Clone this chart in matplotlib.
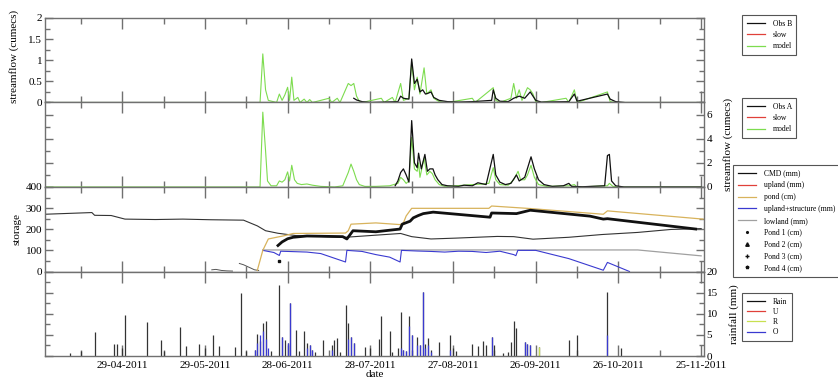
"""Hydrograph panels for the 2011 season: streamflow at B and A, storages and rainfall."""
import matplotlib

matplotlib.use("Agg")

import matplotlib.dates as mdates
import matplotlib.pyplot as plt
import numpy as np
from matplotlib.lines import Line2D
from matplotlib.ticker import FixedLocator, MultipleLocator

START = np.datetime64("2011-04-01")
END = np.datetime64("2011-11-26")

# all series: (days since 1 April 2011, value)
OBS_B = [(112, 0.1), (113, 0.06), (115, 0.02), (118, 0), (128, 0.02), (129, 0.15), (130, 0.1),
         (132, 0.08), (133, 1.03), (134, 0.45), (135, 0.55), (136, 0.25), (137, 0.3), (138, 0.2),
         (139, 0.22), (140, 0.25), (141, 0.12), (143, 0.05), (146, 0.02), (150, 0.01), (155, 0.02),
         (162, 0.05), (162.6, 0.3), (163.5, 0.1), (165, 0.03), (168, 0.02), (170, 0.1), (172, 0.15),
         (174, 0.1), (176, 0.25), (177, 0.15), (178, 0.05), (180, 0.01), (190, 0.02), (192, 0.2),
         (193, 0.03), (204, 0.2), (205, 0.08), (207, 0.02), (210, 0)]
MODEL_B = [(0, 0), (78, 0), (79, 1.15), (80, 0.3), (81, 0.05), (84, 0), (85, 0.2), (86, 0.05),
           (87, 0.18), (88, 0.36), (88.7, 0.05), (89.5, 0.6), (90.3, 0.05), (91.7, 0.12), (92.5, 0),
           (94, 0.08), (95, 0), (96, 0.07), (97, 0), (103, 0.1), (104, 0), (106, 0.1), (107, 0),
           (110, 0.45), (111, 0.4), (112, 0.45), (113, 0.15), (114, 0.03), (115, 0), (122, 0.1),
           (123, 0), (126, 0.12), (127, 0), (129, 0.45), (130, 0.05), (132, 0.1), (133, 0.95),
           (134, 0.3), (135, 0.6), (136, 0.2), (137.5, 0.82), (138.5, 0.2), (140, 0.3), (141, 0.1),
           (143, 0.02), (146, 0), (155, 0.1), (156, 0), (162.6, 0.35), (163.5, 0.05), (165, 0),
           (169, 0.1), (170, 0.45), (171, 0.1), (172, 0.3), (173, 0.05), (175, 0.35), (176, 0.3),
           (177, 0.2), (178, 0.02), (180, 0), (189, 0.1), (190, 0), (192, 0.3), (193, 0),
           (204, 0.25), (205, 0.02), (207, 0), (238, 0)]

OBS_A = [(127, 0.1), (128, 0.5), (129, 1.2), (130, 1.5), (131, 1.0), (132, 0.4), (133, 5.5),
         (134, 2.0), (135, 1.6), (135.5, 2.8), (136.5, 1.5), (137.8, 2.7), (138.7, 1.3),
         (139.6, 1.5), (140.7, 1.5), (141.5, 1.0), (142.5, 0.6), (144, 0.2), (146, 0.1),
         (150, 0.05), (152, 0.15), (155, 0.1), (157, 0.35), (159, 0.25), (160, 0.2), (162.6, 2.7),
         (163.5, 1.0), (165, 0.4), (167, 0.2), (169, 0.3), (171, 1.0), (172, 0.5), (174, 0.8),
         (176.3, 2.5), (177.5, 1.5), (179, 0.6), (181, 0.2), (184, 0.05), (188, 0.1), (190, 0.3),
         (191, 0.05), (195, 0.02), (203, 0.1), (204, 2.6), (204.7, 2.7), (205.5, 0.5), (207, 0.1),
         (210, 0), (238, 0)]
MODEL_A = [(0, 0), (78, 0), (79, 6.2), (80, 3.0), (80.7, 0.5), (82, 0.1), (84, 0.1), (85, 0.5),
           (86, 0.4), (87, 0.6), (88, 1.25), (88.7, 0.5), (89.5, 1.8), (90.5, 0.6), (91.5, 0.3),
           (93, 0.2), (95, 0.25), (97, 0.15), (100, 0.05), (105, 0), (108, 0.1), (110, 1.2),
           (111, 1.9), (112, 1.3), (113, 0.6), (114, 0.2), (116, 0.05), (120, 0.05), (125, 0.1),
           (128, 0.3), (129, 0.8), (130, 0.6), (131, 0.3), (132, 0.5), (133, 4.1), (134, 1.5),
           (135, 1.3), (135.5, 2.0), (136, 0.8), (137.5, 2.4), (138.5, 1.0), (139.6, 1.3),
           (140.5, 1.1), (141.5, 0.6), (143, 0.2), (145, 0.05), (149, 0.1), (155, 0.2),
           (159, 0.25), (161, 0.3), (162.6, 1.6), (163.5, 0.6), (165, 0.2), (168, 0.15), (170, 0.6),
           (171.6, 1.3), (172.5, 0.6), (174, 0.6), (175, 1.0), (176.3, 1.8), (177.5, 0.8),
           (179, 0.2), (182, 0.05), (190, 0.1), (192, 0.2), (193, 0), (204, 0.1), (204.7, 0.3),
           (206, 0.05), (208, 0), (238, 0)]

CMD = [(0, 271), (17, 279), (18, 266), (24, 265), (29, 248), (40, 246), (50, 248), (60, 245),
       (72, 243), (77, 216), (80, 193), (84.5, 181), (91, 170), (109, 162), (120, 172), (129, 180),
       (133, 165), (140, 154), (149, 158), (164, 166), (170, 165), (177, 153), (190, 162),
       (202, 175), (215, 185), (227, 199), (238, 203)]
UPLAND_EARLY = [(60.5, 8), (62, 10), (64, 5), (66, 3), (68, 2), (69, np.nan), (70.5, 38),
                (72, 32), (74, 20), (76, 8), (77.5, 5)]
POND = [(77, 5), (79, 100), (81, 154), (87, 170), (90, 180), (109, 182), (110, 193), (111, 224),
        (120, 230), (128.8, 222), (130, 230), (131, 263), (133, 299), (161, 299), (162, 310),
        (176, 298), (202.5, 271), (204, 287), (238.7, 248)]
UPLAND_STRUCT = [(79, 100), (83, 90), (85, 76), (85.5, 96), (95, 92), (100, 85), (109, 45),
                 (109.5, 100), (115, 95), (120, 80), (125, 68), (128.8, 45), (129.3, 100),
                 (135, 97), (140, 95), (145, 92), (150, 96), (155, 95), (160, 90), (165, 96),
                 (170, 80), (170.8, 75), (171.5, 100), (178, 100), (190, 61), (202.5, 6),
                 (204, 43), (212, 0)]
LOWLAND = [(79, 102), (215, 102), (238, 74)]
POND_OBS = [(84.5, 123), (86, 140), (88, 155), (90, 162), (95, 168), (108, 165), (109.5, 154),
            (111.7, 193), (120, 188), (128.8, 201), (129.6, 224), (132.4, 238), (133.6, 254),
            (135.4, 265), (137.2, 274), (140.8, 281), (161.4, 257), (162, 277), (171, 274),
            (176, 290), (197.7, 262), (202.5, 248), (204, 250), (236, 201)]
POND_OBS_FIRST = [(85, 50)]

RAIN = [(9, 0.7), (13, 1.2), (18, 5.7), (25, 2.8), (26, 2.8), (28, 2.0), (29, 9.6), (37, 8.0),
        (42, 3.7), (43, 1.2), (49, 6.8), (51, 2.4), (56, 2.8), (58, 2.0), (61, 5.0), (63, 2.4),
        (69, 2.2), (71, 14.8), (73, 1.2), (76, 1.5), (77, 5.2), (78, 3.5), (79, 7.8), (80, 8.3),
        (82, 1.2), (85, 16.7), (86, 4.6), (87, 3.9), (88, 3.0), (89, 12.5), (91, 6.2), (92, 1.2),
        (94, 6.0), (95, 3.1), (96, 2.6), (97, 1.5), (98, 1.0), (101, 3.9), (104, 2.6), (105, 3.9),
        (106, 4.2), (107, 1.0), (109, 12.1), (110, 7.8), (111, 4.6), (112, 3.1), (116, 2.2),
        (118, 2.0), (121, 4.0), (122, 9.4), (125, 5.8), (126, 1.0), (128, 2.0), (129, 10.3),
        (130, 1.5), (131, 1.2), (132, 9.4), (133, 5.0), (135, 4.4), (136, 2.6), (137, 15.1),
        (138, 2.8), (139, 4.2), (140, 1.5), (143, 3.3), (147, 5.0), (148, 2.0), (149, 1.2),
        (155, 2.8), (157, 2.4), (159, 3.6), (160, 2.6), (162, 4.6), (163, 2.6), (166, 0.6),
        (168, 1.0), (169, 3.3), (170, 8.4), (171, 6.6), (174, 3.3), (175, 2.8), (176, 2.6),
        (179, 2.2), (190, 3.9), (193, 4.9), (204, 15.1), (209, 2.0)]
RAIN_O = [(76, 1.5), (77, 3.0), (78, 5.0), (79, 6.0), (80, 4.0), (81, 2.0), (86, 4.6), (88, 3.0),
          (89, 12.5), (95, 2.0), (96, 2.6), (97, 1.5), (104, 1.5), (110, 4.0), (111, 4.6),
          (112, 3.1), (129, 2.0), (130, 1.5), (131, 1.2), (132, 7.0), (133, 5.0), (135, 2.5),
          (136, 2.6), (137, 15.1), (138, 2.0), (139, 2.5), (140, 1.0), (147, 1.5), (162, 4.6),
          (174, 3.3), (175, 2.8), (176, 2.6), (204, 4.9)]
RAIN_R = [(179, 2.2)]

MAJOR_DATES = np.arange(np.datetime64("2011-04-29"), END, 30)
MINOR_DATES = np.arange(np.datetime64("2011-04-14"), END, 30)

BLACK = "#111111"
RED = "#e0403a"
GREEN = "#7ddc4f"
ORANGE = "#d8b35c"
BLUE = "#3a3ad0"
GREY = "#a0a0a0"
FRAME = "#707070"


def _series(pairs):
    days = np.array([p[0] for p in pairs], dtype=float)
    vals = np.array([p[1] for p in pairs], dtype=float)
    dates = START + np.round(days * 24).astype(int).astype("timedelta64[h]")
    return dates, vals


def _style(ax):
    ax.set_xlim(START, END)
    ax.xaxis.set_major_locator(FixedLocator(mdates.date2num(MAJOR_DATES)))
    ax.xaxis.set_minor_locator(FixedLocator(mdates.date2num(MINOR_DATES)))
    ax.xaxis.set_major_formatter(mdates.DateFormatter("%d-%m-%Y"))
    ax.tick_params(which="both", direction="in", top=True, bottom=True, left=True, right=True,
                   color=FRAME, width=1.0, labelsize=8, pad=2)
    ax.tick_params(axis="x", which="major", length=8, pad=3.5)
    ax.tick_params(axis="x", which="minor", length=4)
    ax.tick_params(axis="y", which="major", length=6)
    ax.tick_params(axis="y", which="minor", length=3.5)
    for spine in ax.spines.values():
        spine.set_color(FRAME)
        spine.set_linewidth(1.0)


def _legend(ax, handles, labels, x_px, y_px, spacing=0.45):
    leg = ax.legend(handles, labels, loc="upper left",
                    bbox_to_anchor=(x_px / 838, 1 - y_px / 381), bbox_transform=ax.figure.transFigure,
                    fontsize=5.5, frameon=True, fancybox=False, framealpha=1, edgecolor="#555555",
                    handlelength=2.4, handletextpad=1.0, labelspacing=spacing, borderpad=0.6,
                    borderaxespad=0)
    leg.get_frame().set_linewidth(0.8)
    return leg


def main():
    plt.rcParams["font.family"] = ["Liberation Serif", "DejaVu Serif"]
    plt.rcParams["font.size"] = 8

    fig, axes = plt.subplots(4, 1, sharex=True, figsize=(8.38, 3.81), dpi=100)
    fig.subplots_adjust(left=0.0537, right=0.840, top=0.9528, bottom=0.0656, hspace=0)
    ax_b, ax_a, ax_s, ax_r = axes
    for ax in axes:
        _style(ax)

    # streamflow B
    ax_b.plot(*_series(MODEL_B), color=GREEN, lw=0.8)
    ax_b.plot(*_series(OBS_B), color=BLACK, lw=0.9)
    ax_b.set_ylim(0, 2)
    ax_b.yaxis.set_major_locator(MultipleLocator(0.5))
    ax_b.yaxis.set_minor_locator(MultipleLocator(0.25))
    ax_b.yaxis.set_major_formatter(lambda v, _: f"{v:g}")
    ax_b.set_ylabel("streamflow (cumecs)")
    ax_b.yaxis.set_label_coords(-0.04, 0.55)
    flow_handles = [Line2D([], [], color=BLACK, lw=0.9), Line2D([], [], color=RED, lw=0.9),
                    Line2D([], [], color=GREEN, lw=0.9)]
    _legend(ax_b, flow_handles, ["Obs B", "slow", "model"], 742, 15)

    # streamflow A
    ax_a.plot(*_series(MODEL_A), color=GREEN, lw=0.8)
    ax_a.plot(*_series(OBS_A), color=BLACK, lw=0.9)
    ax_a.set_ylim(0, 7)
    ax_a.yaxis.set_major_locator(MultipleLocator(2))
    ax_a.yaxis.set_minor_locator(MultipleLocator(1))
    ax_a.tick_params(axis="y", labelleft=False, labelright=True)
    ax_a.yaxis.set_label_position("right")
    ax_a.set_ylabel("streamflow (cumecs)", labelpad=8)
    _legend(ax_a, flow_handles, ["Obs A", "slow", "model"], 742, 98)

    # storages
    ax_s.plot(*_series(CMD), color="#333333", lw=0.8)
    ax_s.plot(*_series(UPLAND_EARLY), color="#555555", lw=0.7)
    ax_s.plot(*_series(LOWLAND), color=GREY, lw=0.9)
    ax_s.plot(*_series(UPLAND_STRUCT), color=BLUE, lw=0.8)
    ax_s.plot(*_series(POND), color=ORANGE, lw=0.9)
    ax_s.plot(*_series(POND_OBS), color=BLACK, lw=2.0)
    ax_s.plot(*_series(POND_OBS_FIRST), ls="none", marker="s", ms=1.6, color=BLACK)
    ax_s.set_ylim(0, 400)
    ax_s.yaxis.set_major_locator(MultipleLocator(100))
    ax_s.yaxis.set_minor_locator(MultipleLocator(50))
    ax_s.set_ylabel("storage", labelpad=3)
    store_handles = [Line2D([], [], color=BLACK, lw=0.9), Line2D([], [], color=RED, lw=0.9),
                     Line2D([], [], color=ORANGE, lw=0.9), Line2D([], [], color=BLUE, lw=0.9),
                     Line2D([], [], color=GREY, lw=0.9),
                     Line2D([], [], ls="none", marker=".", ms=2.5, color=BLACK),
                     Line2D([], [], ls="none", marker="^", ms=2.5, color=BLACK),
                     Line2D([], [], ls="none", marker="+", ms=2.5, color=BLACK),
                     Line2D([], [], ls="none", marker="*", ms=2.5, color=BLACK)]
    store_labels = ["CMD (mm)", "upland (mm)", "pond (cm)", "upland+structure (mm)",
                    "lowland (mm)", "Pond 1 (cm)", "Pond 2 (cm)", "Pond 3 (cm)", "Pond 4 (cm)"]
    _legend(ax_s, store_handles, store_labels, 733, 165, spacing=0.5)

    # rainfall
    r_dates, r_vals = _series(RAIN)
    ax_r.vlines(r_dates, 0, r_vals, color="#333333", lw=0.9)
    o_dates, o_vals = _series(RAIN_O)
    ax_r.vlines(o_dates, 0, o_vals, color=BLUE, lw=0.9)
    g_dates, g_vals = _series(RAIN_R)
    ax_r.vlines(g_dates, 0, g_vals, color="#c8e050", lw=0.9)
    ax_r.set_ylim(0, 20)
    ax_r.yaxis.set_major_locator(MultipleLocator(5))
    ax_r.yaxis.set_minor_locator(MultipleLocator(2.5))
    ax_r.tick_params(axis="y", labelleft=False, labelright=True)
    ax_r.yaxis.set_label_position("right")
    ax_r.set_ylabel("rainfall (mm)", labelpad=8)
    ax_r.set_xlabel("date", labelpad=0)
    rain_handles = [Line2D([], [], color=BLACK, lw=0.9), Line2D([], [], color=RED, lw=0.9),
                    Line2D([], [], color="#c8e050", lw=0.9), Line2D([], [], color=BLUE, lw=0.9)]
    _legend(ax_r, rain_handles, ["Rain", "U", "R", "O"], 742, 293, spacing=0.3)

    fig.savefig("out.png", dpi=100)
    plt.close(fig)


if __name__ == "__main__":
    main()
